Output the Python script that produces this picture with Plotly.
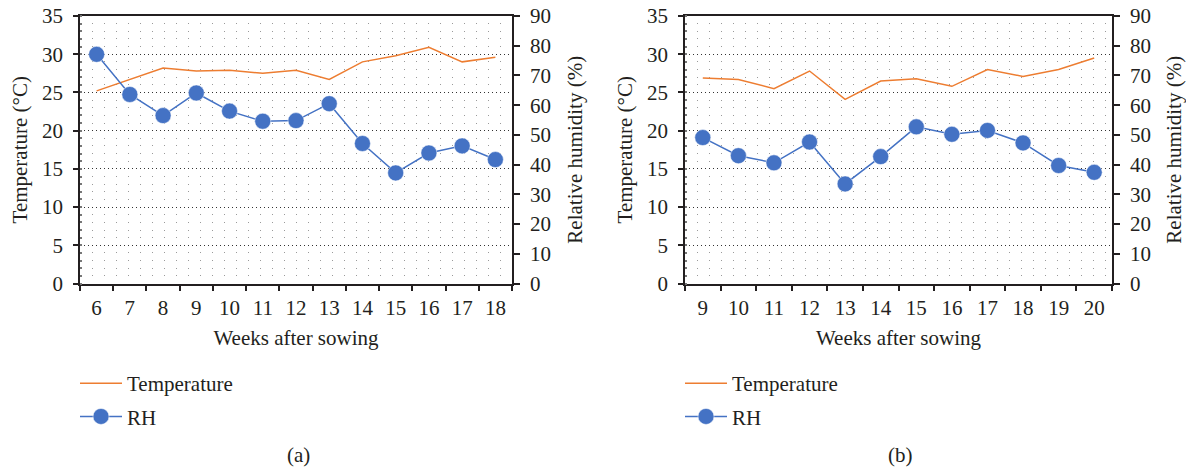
import plotly.graph_objects as go

# ---- data ----
weeks_a = ["6", "7", "8", "9", "10", "11", "12", "13", "14", "15", "16", "17", "18"]
temp_a = [25.2, 26.7, 28.2, 27.8, 27.9, 27.5, 27.9, 26.7, 29.0, 29.8, 30.9, 29.0, 29.6]
rh_a = [77.1, 63.6, 56.5, 64.1, 58.0, 54.6, 54.8, 60.5, 47.1, 37.2, 43.9, 46.3, 41.7]

weeks_b = ["9", "10", "11", "12", "13", "14", "15", "16", "17", "18", "19", "20"]
temp_b = [26.9, 26.7, 25.5, 27.8, 24.1, 26.5, 26.8, 25.8, 28.0, 27.1, 28.0, 29.5]
rh_b = [49.1, 43.0, 40.6, 47.6, 33.5, 42.7, 52.7, 50.2, 51.5, 47.3, 39.7, 37.4]

W, H = 1186, 470
FONT = "Liberation Serif"
TXT = "#231F20"
ORANGE = "#ED7D31"
BLUE = "#4472C4"
FS = 21

def px_x(p):
    return p / W

def px_y(p):
    return 1 - p / H

top_px, bot_px = 16, 283.5
dom_y = [px_y(bot_px), px_y(top_px)]
dom_a = [px_x(80), px_x(512)]
dom_b = [px_x(685), px_x(1112)]

fig = go.Figure()

fig.add_trace(go.Scatter(x=weeks_a, y=temp_a, mode="lines", name="Temperature",
                         line=dict(color=ORANGE, width=1.5), xaxis="x", yaxis="y",
                         legend="legend", legendgroup="t"))
fig.add_trace(go.Scatter(x=weeks_a, y=rh_a, mode="lines+markers", name="RH",
                         line=dict(color=BLUE, width=1.5),
                         marker=dict(size=16, color=BLUE, line=dict(color="white", width=0.5)),
                         xaxis="x", yaxis="y2", legend="legend", legendgroup="r"))
fig.add_trace(go.Scatter(x=weeks_b, y=temp_b, mode="lines", name="Temperature",
                         line=dict(color=ORANGE, width=1.5), xaxis="x2", yaxis="y3",
                         legend="legend2", legendgroup="t"))
fig.add_trace(go.Scatter(x=weeks_b, y=rh_b, mode="lines+markers", name="RH",
                         line=dict(color=BLUE, width=1.5),
                         marker=dict(size=16, color=BLUE, line=dict(color="white", width=0.5)),
                         xaxis="x2", yaxis="y4", legend="legend2", legendgroup="r"))

tickfont = dict(family=FONT, size=FS, color=TXT)
titlefont = dict(family=FONT, size=FS, color=TXT)

def xaxis(domain, anchor, cats):
    return dict(domain=domain, anchor=anchor, type="category", tickson="boundaries",
                range=[-0.5, len(cats) - 0.5],
                ticks="outside", ticklen=6, tickcolor="#231F20", tickwidth=1.5,
                ticklabelstandoff=5,
                showline=True, linecolor="#231F20", linewidth=1.5, mirror=True,
                showgrid=False, zeroline=False, tickfont=tickfont,
                title=dict(text="Weeks after sowing", font=titlefont, standoff=11),
                automargin=False, fixedrange=True)

def ytemp(anchor):
    return dict(domain=dom_y, anchor=anchor, range=[0, 35], dtick=5, tick0=0,
                ticks="outside", ticklen=5, tickcolor="#231F20", tickwidth=1.5,
                ticklabelstandoff=6,
                showline=True, linecolor="#231F20", linewidth=1.5,
                showgrid=True, gridcolor="#333333", gridwidth=1, griddash="1px,3px",
                minor=dict(dtick=1, showgrid=True, gridcolor="#9a9a9a", gridwidth=1,
                           griddash="1px,11px", ticks="inside", ticklen=2, tickcolor="#777"),
                zeroline=False, tickfont=tickfont,
                title=dict(text="Temperature (°C)", font=titlefont, standoff=9),
                automargin=False, fixedrange=True)

def yrh(overlay, anchor):
    return dict(domain=dom_y, anchor=anchor, overlaying=overlay, side="right",
                range=[0, 90], dtick=10, tick0=0,
                ticks="outside", ticklen=6, tickcolor="#231F20", tickwidth=1.5,
                ticklabelstandoff=6,
                showline=True, linecolor="#231F20", linewidth=1.5,
                showgrid=False, zeroline=False, tickfont=tickfont,
                title=dict(text="Relative humidity (%)", font=titlefont, standoff=17),
                automargin=False, fixedrange=True)

legfont = dict(family=FONT, size=FS, color=TXT)

fig.update_layout(
    width=W, height=H,
    margin=dict(l=0, r=0, t=0, b=0),
    paper_bgcolor="white", plot_bgcolor="white",
    xaxis=xaxis(dom_a, "y", weeks_a),
    yaxis=ytemp("x"),
    yaxis2=yrh("y", "x"),
    xaxis2=xaxis(dom_b, "y3", weeks_b),
    yaxis3=ytemp("x2"),
    yaxis4=yrh("y3", "x2"),
    legend=dict(x=px_x(75), y=px_y(363), xanchor="left", yanchor="top",
                font=legfont, tracegroupgap=3, itemwidth=42, bgcolor="rgba(0,0,0,0)"),
    legend2=dict(x=px_x(680), y=px_y(363), xanchor="left", yanchor="top",
                 font=legfont, tracegroupgap=3, itemwidth=42, bgcolor="rgba(0,0,0,0)"),
    showlegend=True,
    annotations=[
        dict(text="(a)", x=px_x(298), y=px_y(455), xref="paper", yref="paper",
             xanchor="center", yanchor="middle",
             showarrow=False, font=dict(family=FONT, size=FS, color=TXT)),
        dict(text="(b)", x=px_x(900), y=px_y(455), xref="paper", yref="paper",
             xanchor="center", yanchor="middle",
             showarrow=False, font=dict(family=FONT, size=FS, color=TXT)),
    ],
)

fig.write_html("out.html")
